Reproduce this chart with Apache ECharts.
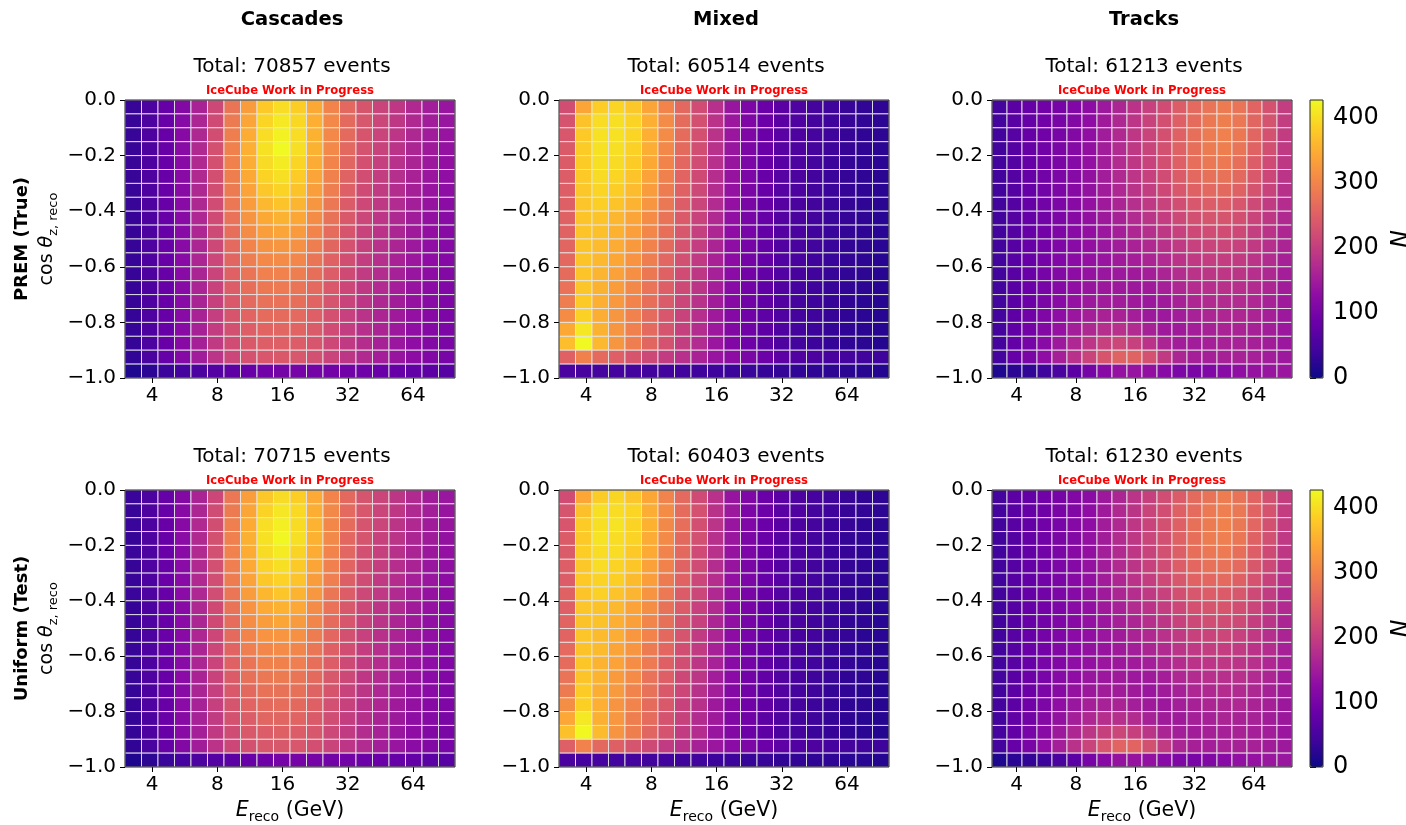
<!DOCTYPE html>
<html><head><meta charset="utf-8">
<script src="https://cdn.jsdelivr.net/npm/echarts@6/dist/echarts.min.js"></script>
<style>html,body{margin:0;padding:0;background:#fff}#c{width:1406px;height:825px}</style>
</head><body><div id="c"></div>
<script>
// ---------- data ----------
const energyEdges = [3.000,3.575,4.260,5.076,6.049,7.208,8.590,10.236,12.198,14.535,17.321,20.640,24.596,29.309,34.926,41.620,49.596,59.101,70.427,83.924,100.0];
const cosEdges = [-1.0,-0.95,-0.9,-0.85,-0.8,-0.75,-0.7,-0.65,-0.6,-0.55,-0.5,-0.45,-0.4,-0.35,-0.3,-0.25,-0.2,-0.15,-0.1,-0.05,0.0];
const xTicks = [4,8,16,32,64];
const colorTicks = [0,100,200,300,400];
const colTitles = ['Cascades','Mixed','Tracks'];
const rowTitles = ['PREM (True)','Uniform (Test)'];
const totals = [[70857,60514,61213],[70715,60403,61230]];
const watermark = 'IceCube Work in Progress';

// matrices: rows from top (cos 0) to bottom (cos -1), columns from low to high energy
const cascadesPrem = [
[35,55,80,115,160,215,280,330,380,400,385,345,300,262,235,210,190,170,152,140],
[35,55,82,118,165,220,288,340,392,412,395,352,305,265,237,212,190,170,152,140],
[35,56,83,120,168,225,292,348,400,420,400,355,305,265,235,210,188,168,150,138],
[35,56,84,122,170,228,295,352,405,428,402,355,305,262,232,207,185,165,148,135],
[35,56,84,122,170,228,295,350,398,415,392,348,300,258,228,203,182,162,145,132],
[35,56,84,122,170,226,292,345,390,402,382,340,295,255,225,200,178,160,142,130],
[35,56,84,122,168,224,288,338,378,390,372,332,290,250,220,196,175,156,140,127],
[35,56,84,122,168,222,282,330,362,375,358,322,282,245,216,192,172,153,137,124],
[34,56,84,122,167,220,276,320,345,355,342,310,275,240,212,188,168,150,134,122],
[34,56,84,122,166,218,270,310,332,340,328,300,268,235,208,185,165,147,132,120],
[34,56,84,122,165,215,264,300,318,322,315,290,260,230,204,182,162,145,130,118],
[34,56,84,122,164,212,258,290,305,308,302,280,252,224,200,178,160,143,128,116],
[34,56,84,122,163,210,252,280,294,296,290,272,246,219,196,175,157,140,126,114],
[34,56,84,122,162,207,246,272,284,286,280,264,240,214,192,172,154,138,124,112],
[34,56,84,122,161,204,240,264,274,276,272,256,234,209,188,168,151,136,122,110],
[33,56,84,122,160,202,235,256,266,268,264,250,228,205,184,165,148,133,120,108],
[33,56,84,121,158,198,229,248,257,259,256,243,222,200,180,162,145,130,117,106],
[32,55,83,120,156,194,222,240,248,250,247,236,216,195,176,158,142,128,115,104],
[30,52,80,116,150,186,213,230,238,240,237,227,209,189,171,154,139,125,113,102],
[15,25,38,48,55,63,72,82,92,98,100,98,96,93,90,86,82,77,72,66]
];
const mixedPrem = [
[225,340,385,392,378,340,300,262,222,180,140,108,86,70,57,48,41,35,30,27],
[232,372,400,402,390,352,308,268,228,185,143,110,87,70,57,48,41,35,30,26],
[238,380,404,404,392,352,308,268,228,184,142,110,86,69,56,47,40,34,29,26],
[242,382,404,402,388,350,305,265,225,182,140,108,85,68,56,47,40,34,29,25],
[245,382,402,398,382,345,300,261,222,180,139,107,84,67,55,46,39,33,28,25],
[246,380,398,392,375,338,295,257,219,177,137,106,83,66,54,45,38,33,28,24],
[248,378,392,384,366,330,289,252,215,175,135,105,82,66,54,45,38,32,28,24],
[250,376,386,375,356,322,283,247,211,172,133,104,81,65,53,44,37,32,27,24],
[252,374,374,360,340,310,277,242,207,169,131,102,80,64,52,44,37,32,27,23],
[254,374,370,354,333,303,271,237,203,166,129,101,79,63,52,43,36,31,27,23],
[258,374,366,348,326,297,265,232,199,163,127,100,78,62,51,43,36,31,26,23],
[262,374,362,342,319,290,259,227,195,160,125,98,77,62,51,42,36,31,26,22],
[268,375,358,336,313,284,253,222,191,157,123,97,76,61,50,42,35,30,26,22],
[276,376,355,330,306,278,248,217,187,154,121,96,75,60,49,41,35,30,26,22],
[290,380,352,325,300,272,243,212,183,151,119,94,74,59,48,40,34,29,25,21],
[310,388,350,322,296,268,238,208,179,148,117,93,73,58,47,40,34,29,25,21],
[345,410,355,322,294,264,234,204,175,145,115,92,72,57,47,39,33,28,24,21],
[368,428,362,322,290,260,230,200,172,142,113,90,71,56,46,39,33,28,24,20],
[252,295,265,250,235,215,198,180,160,140,125,105,88,72,62,55,50,46,43,40],
[52,50,48,47,46,45,44,43,42,40,38,36,34,32,30,28,26,24,22,20]
];
const tracksPrem = [
[48,70,80,92,100,112,125,145,165,185,205,222,246,264,278,288,278,256,230,200],
[46,68,80,92,102,114,128,148,168,188,208,226,250,268,284,292,282,258,231,200],
[45,66,80,92,102,115,130,150,170,190,210,228,252,272,288,294,284,258,230,198],
[44,65,80,93,104,116,132,152,172,192,210,228,252,272,288,292,280,254,226,194],
[44,64,80,94,105,118,133,152,172,190,208,226,250,270,283,285,272,247,220,190],
[44,64,80,94,106,118,134,152,170,188,205,222,245,262,273,275,263,240,214,186],
[44,64,80,94,106,119,134,150,167,184,200,216,238,253,262,263,252,231,207,181],
[44,64,80,95,107,119,133,148,163,178,193,207,225,238,246,246,236,218,197,174],
[44,64,81,95,108,120,132,146,158,172,186,199,215,227,234,234,226,210,191,170],
[44,64,82,96,109,121,132,143,154,166,178,190,205,216,222,222,216,202,185,166],
[44,65,83,97,110,122,132,141,150,160,170,181,195,205,210,211,206,194,179,162],
[44,66,84,98,112,124,133,140,147,154,162,172,185,194,199,200,196,186,173,158],
[45,67,85,100,114,126,135,141,145,148,154,163,175,184,189,190,187,179,168,154],
[45,68,87,102,117,130,139,144,146,146,147,155,166,174,179,181,179,173,164,151],
[46,70,89,105,121,135,145,150,150,147,143,148,158,166,171,173,172,167,159,148],
[46,72,92,109,127,142,154,160,160,154,146,145,152,159,164,166,166,162,155,145],
[47,75,96,115,135,153,168,178,180,172,158,148,148,154,158,161,161,158,152,143],
[48,78,100,122,145,167,188,205,212,205,185,163,152,152,155,158,159,156,151,143],
[48,80,104,128,155,182,210,235,255,255,230,195,165,155,155,158,159,157,152,145],
[15,24,30,40,52,70,98,120,135,138,132,122,108,104,112,122,130,136,140,142]
];
const cascadesUni = [
[36,54,81,114,161,214,282,332,378,398,384,346,299,263,234,211,189,171,151,141],
[35,56,81,119,164,221,287,341,390,410,396,351,306,264,238,211,191,169,153,139],
[36,55,84,119,169,224,293,347,401,418,399,356,304,266,234,211,187,169,149,139],
[34,57,83,123,169,229,294,353,404,426,403,354,306,261,233,206,186,164,149,134],
[36,55,85,121,171,227,296,349,399,414,391,349,299,259,227,204,181,163,144,133],
[34,57,83,123,169,227,291,346,389,403,381,341,294,256,224,201,177,161,141,131],
[35,55,85,121,169,223,289,337,379,389,373,331,291,249,221,195,176,155,141,126],
[36,57,83,123,167,223,281,331,361,376,357,323,281,246,215,193,171,154,136,125],
[33,55,85,121,168,219,277,319,346,354,343,309,276,239,213,187,169,149,135,121],
[35,57,83,123,165,219,269,311,331,341,327,301,267,236,207,186,164,148,131,121],
[33,55,85,121,166,214,265,299,319,321,316,289,261,229,205,181,163,144,131,117],
[35,57,83,123,163,213,257,291,304,309,301,281,251,225,199,179,159,144,127,117],
[33,55,85,121,164,209,253,279,295,295,291,271,247,218,197,174,158,139,127,113],
[35,57,83,123,161,208,245,273,283,287,279,265,239,215,191,173,153,139,123,113],
[33,55,85,121,162,203,241,263,275,275,273,255,235,208,189,167,152,135,123,109],
[34,57,83,123,159,203,234,257,265,269,263,251,227,206,183,166,147,134,119,109],
[32,55,85,120,159,197,230,247,258,258,257,242,223,199,181,161,146,129,118,105],
[33,56,82,121,155,195,221,241,247,251,246,237,215,196,175,159,141,129,114,105],
[29,51,81,115,151,185,214,229,239,239,238,226,210,188,172,153,140,124,114,101],
[14,26,37,49,54,64,71,83,91,99,99,99,95,94,89,87,81,78,71,67]
];
const mixedUni = [
[222,342,383,393,376,342,298,264,220,182,138,109,85,71,56,49,40,35,29,27],
[234,370,402,400,392,350,310,266,230,183,145,108,88,69,58,47,42,34,31,26],
[236,382,402,406,390,354,306,270,226,186,140,111,85,70,55,48,39,35,28,26],
[244,380,406,400,390,348,307,263,227,180,142,107,86,67,57,46,41,33,30,25],
[243,384,400,400,380,347,298,263,220,182,137,108,83,68,54,47,38,34,27,25],
[248,378,400,390,377,336,297,255,221,175,139,105,84,65,55,44,39,32,29,24],
[246,380,390,386,364,332,287,254,213,177,133,106,81,67,53,46,37,33,27,24],
[252,375,388,373,358,320,285,245,213,170,135,103,82,64,54,43,38,31,28,24],
[250,376,372,362,338,312,275,244,205,171,129,103,79,65,51,45,36,33,26,23],
[256,372,372,352,335,301,273,235,205,164,131,100,80,62,53,42,37,30,28,23],
[256,376,364,350,324,299,263,234,197,165,125,101,77,63,50,44,35,32,25,23],
[264,372,364,340,321,288,261,225,197,158,127,97,78,61,52,41,37,30,27,22],
[266,377,356,338,311,286,251,224,189,159,121,98,75,62,49,43,34,31,25,22],
[278,374,357,328,308,276,250,215,189,152,123,95,76,59,50,40,36,29,27,22],
[288,382,350,327,298,274,241,214,181,153,117,95,73,60,47,41,33,30,24,21],
[312,386,352,320,298,266,240,206,181,146,119,92,74,57,48,39,35,28,26,21],
[343,412,353,324,292,266,232,206,173,147,113,93,71,58,46,40,32,29,23,21],
[370,426,364,320,292,258,232,198,174,140,115,89,72,55,47,38,34,27,25,20],
[250,296,263,251,233,217,196,181,158,142,123,107,87,73,61,56,49,47,42,40],
[53,49,49,46,47,44,45,42,43,39,39,35,35,31,31,27,27,23,23,20]
];
const tracksUni = [
[47,71,79,93,99,113,124,146,164,186,204,223,245,265,277,289,277,257,229,201],
[47,67,81,91,103,113,129,147,169,187,209,225,251,267,285,291,283,257,232,199],
[44,67,79,93,101,116,129,151,169,191,209,229,251,273,287,295,283,259,229,199],
[45,64,81,92,105,115,133,151,173,191,211,227,253,271,289,291,281,253,227,193],
[43,65,79,95,104,119,132,153,171,191,207,227,249,271,282,286,271,248,219,191],
[45,63,81,93,107,117,135,151,171,187,206,221,246,261,274,274,264,239,215,185],
[43,65,79,95,105,120,133,151,166,185,199,217,237,254,261,264,251,232,206,182],
[45,63,81,94,108,118,134,147,164,177,194,206,226,237,247,245,237,217,198,173],
[43,65,80,96,107,121,131,147,157,173,185,200,214,228,233,235,225,211,190,171],
[45,63,83,95,110,120,133,142,155,165,179,189,206,215,223,221,217,201,186,165],
[43,66,82,98,109,123,131,142,149,161,169,182,194,206,209,212,205,195,178,163],
[45,65,85,97,113,123,134,139,148,153,163,171,186,193,200,199,197,185,174,157],
[44,68,84,101,113,127,134,142,144,149,153,164,174,185,188,191,186,180,167,155],
[46,67,88,101,118,129,140,143,147,145,148,154,167,173,180,180,180,172,165,150],
[45,71,88,106,120,136,144,151,149,148,142,149,157,167,170,174,171,168,158,149],
[47,71,93,108,128,141,155,159,161,153,147,144,153,158,165,165,167,161,156,144],
[46,76,95,116,134,154,167,179,179,173,157,149,147,155,157,162,160,159,151,144],
[49,77,101,121,146,166,189,204,213,204,186,162,153,151,156,157,160,155,152,142],
[47,81,103,129,154,183,209,236,256,256,229,196,164,156,154,159,158,158,151,146],
[16,23,31,39,53,69,99,119,136,137,133,121,109,103,113,121,131,135,141,141]
];
const panels = [cascadesPrem, mixedPrem, tracksPrem, cascadesUni, mixedUni, tracksUni];

// ---------- styling / layout ----------
const FONT = 'DejaVu Sans';
const plasma = ['#0d0887','#41049d','#6a00a8','#8f0da4','#b12a90','#cc4778','#e16462','#f2844b','#fca636','#fcce25','#f0f921'];
const colorMax = 428;
const gridLeft = [125, 559, 992];
const gridWidth = [330, 330, 300];
const gridTop = [100, 490];
const gridHeight = [278, 277];
const cbLeft = 1310, cbWidth = 13;

function buildData(m) {
  const out = [];
  const nRows = m.length;
  for (let r = 0; r < nRows; r++) {
    for (let c = 0; c < m[r].length; c++) {
      out.push([energyEdges[c], energyEdges[c + 1], cosEdges[nRows - 1 - r], cosEdges[nRows - r], m[r][c]]);
    }
  }
  return out;
}

function renderCell(params, api) {
  const p0 = api.coord([api.value(0), api.value(3)]);
  const p1 = api.coord([api.value(1), api.value(2)]);
  return {
    type: 'rect',
    shape: { x: p0[0], y: p0[1], width: p1[0] - p0[0], height: p1[1] - p0[1] },
    style: { fill: api.visual('color'), stroke: 'rgba(228,228,228,0.9)', lineWidth: 1 }
  };
}

const grids = [], xAxes = [], yAxes = [], series = [], graphics = [];
const minus = s => s.replace('-', '\u2212');

for (let row = 0; row < 2; row++) {
  for (let col = 0; col < 3; col++) {
    const i = row * 3 + col;
    grids.push({
      left: gridLeft[col], top: gridTop[row], width: gridWidth[col], height: gridHeight[row],
      show: true, z: 10, backgroundColor: 'transparent', borderColor: '#262626', borderWidth: 1,
      containLabel: false, outerBoundsMode: 'none'
    });
    xAxes.push({
      gridIndex: i, type: 'log', logBase: 2, min: 3, max: 100,
      axisLine: { show: false, onZero: false },
      axisTick: { show: true, customValues: xTicks, length: 5, lineStyle: { color: '#000', width: 1 } },
      axisLabel: { customValues: xTicks, formatter: v => String(Math.round(v)), fontSize: 20, color: '#000', fontFamily: FONT, margin: 8 },
      splitLine: { show: false }
    });
    yAxes.push({
      gridIndex: i, type: 'value', min: -1, max: 0, interval: 0.2,
      axisLine: { show: false },
      axisTick: { show: true, length: 5, lineStyle: { color: '#000', width: 1 } },
      axisLabel: { formatter: v => minus(v.toFixed(1)), fontSize: 20, color: '#000', fontFamily: FONT, margin: 9, showMinLabel: true, showMaxLabel: true },
      splitLine: { show: false }
    });
    series.push({
      type: 'custom', coordinateSystem: 'cartesian2d', xAxisIndex: i, yAxisIndex: i,
      renderItem: renderCell, data: buildData(panels[i]),
      encode: { x: [0, 1], y: [2, 3] }, clip: true, silent: true
    });
    const cx = gridLeft[col] + gridWidth[col] / 2;
    const topY = gridTop[row];
    graphics.push({ type: 'text', x: cx + 2, y: topY - 33, silent: true,
      style: { text: 'Total: ' + totals[row][col] + ' events', fontSize: 20, fontFamily: FONT, fill: '#000', align: 'center', verticalAlign: 'middle' } });
    graphics.push({ type: 'text', x: cx, y: topY - 9, silent: true,
      style: { text: watermark, fontSize: 11.6, fontWeight: 'bold', fontFamily: FONT, fill: '#ff0000', align: 'center', verticalAlign: 'middle' } });
    if (row === 0) {
      graphics.push({ type: 'text', x: cx + 2, y: 20, silent: true,
        style: { text: colTitles[col], fontSize: 19.5, fontWeight: 'bold', fontFamily: FONT, fill: '#000', align: 'center', verticalAlign: 'middle' } });
    } else {
      graphics.push({ type: 'text', x: cx, y: 811, silent: true,
        style: { text: '{e|E}{s|reco}{n| (GeV)}', align: 'center', verticalAlign: 'middle',
          rich: {
            e: { fontSize: 20.5, fontStyle: 'italic', fontFamily: FONT, fill: '#000', lineHeight: 26 },
            s: { fontSize: 14, fontFamily: FONT, fill: '#000', lineHeight: 12, verticalAlign: 'bottom' },
            n: { fontSize: 20.5, fontFamily: FONT, fill: '#000', lineHeight: 26 }
          } } });
    }
  }
  // row labels
  const cy = gridTop[row] + gridHeight[row] / 2;
  graphics.push({ type: 'text', x: 22, y: cy, rotation: Math.PI / 2, silent: true,
    style: { text: rowTitles[row], fontSize: 18, fontWeight: 'bold', fontFamily: FONT, fill: '#000', align: 'center', verticalAlign: 'middle' } });
  graphics.push({ type: 'text', x: 47, y: cy, rotation: Math.PI / 2, silent: true,
    style: { text: '{n|cos }{t|\u03b8}{s|z, reco}', align: 'center', verticalAlign: 'middle',
      rich: {
        n: { fontSize: 19, fontFamily: FONT, fill: '#000', lineHeight: 26 },
        t: { fontSize: 19, fontStyle: 'italic', fontFamily: FONT, fill: '#000', lineHeight: 26 },
        s: { fontSize: 13, fontFamily: FONT, fill: '#000', lineHeight: 11, verticalAlign: 'bottom' }
      } } });
  graphics.push({ type: 'text', x: 1396, y: cy, rotation: -Math.PI / 2, silent: true,
    style: { text: 'N', fontSize: 24, fontStyle: 'italic', fontFamily: FONT, fill: '#000', align: 'center', verticalAlign: 'middle' } });
}

// colorbar axes (grid indices 6 and 7)
for (let row = 0; row < 2; row++) {
  const gi = 6 + row;
  grids.push({
    left: cbLeft, top: gridTop[row], width: cbWidth, height: gridHeight[row],
    show: true, z: 10, backgroundColor: 'transparent', borderColor: '#262626', borderWidth: 1,
    containLabel: false, outerBoundsMode: 'none'
  });
  xAxes.push({ gridIndex: gi, type: 'value', min: 0, max: 1, show: false });
  yAxes.push({
    gridIndex: gi, type: 'value', position: 'right', min: 0, max: colorMax,
    axisLine: { show: false },
    axisTick: { show: true, customValues: colorTicks, length: 6, lineStyle: { color: '#000', width: 1 } },
    axisLabel: { customValues: colorTicks, fontSize: 24, color: '#000', fontFamily: FONT, margin: 10 },
    splitLine: { show: false }
  });
}

const visualMaps = [0, 1].map(row => ({
  type: 'continuous', min: 0, max: colorMax, dimension: 4,
  seriesIndex: [row * 3, row * 3 + 1, row * 3 + 2],
  inRange: { color: plasma },
  orient: 'vertical', left: cbLeft, top: gridTop[row],
  itemWidth: cbWidth, itemHeight: gridHeight[row],
  calculable: false, hoverLink: false, padding: 0, realtime: false,
  textStyle: { color: 'transparent' }
}));

const chart = echarts.init(document.getElementById('c'), null, { renderer: 'canvas' });
chart.setOption({
  animation: false,
  backgroundColor: '#ffffff',
  grid: grids,
  xAxis: xAxes,
  yAxis: yAxes,
  visualMap: visualMaps,
  series: series,
  graphic: { elements: graphics }
});
</script>
</body></html>
